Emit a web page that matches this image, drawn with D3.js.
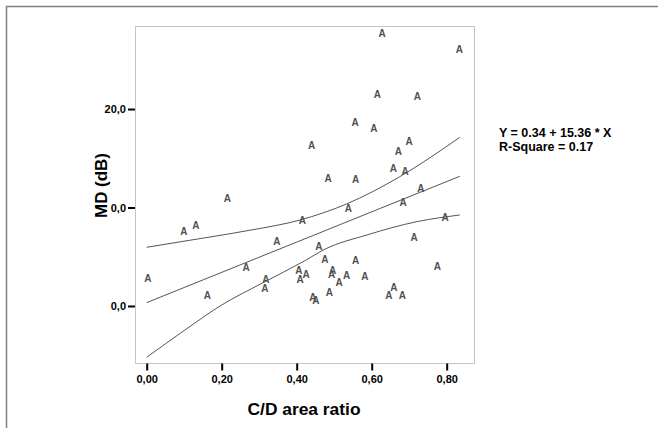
<!DOCTYPE html>
<html>
<head>
<meta charset="utf-8">
<script src="https://cdn.jsdelivr.net/npm/d3@7"></script>
<style>
  body { margin: 0; background: #fff; }
  text { font-family: "Liberation Sans", Arial, sans-serif; }
</style>
</head>
<body>
<div id="chart"></div>
<script>
// C/D area ratio vs MD (dB)
var cdRatio = [0.628, 0.834, 0.615, 0.722, 0.556, 0.606, 0.440, 0.700, 0.671,
  0.658, 0.689, 0.484, 0.557, 0.215, 0.731, 0.538, 0.684, 0.415, 0.099, 0.131,
  0.796, 0.347, 0.713, 0.459, 0.475, 0.557, 0.265, 0.775, 0.003, 0.318, 0.406,
  0.425, 0.409, 0.496, 0.493, 0.533, 0.582, 0.513, 0.315, 0.162, 0.443, 0.451,
  0.487, 0.659, 0.646, 0.682];
var mdValue = [27.69, 26.06, 21.52, 21.25, 18.61, 18.04, 16.35, 16.68, 15.66,
  13.98, 13.63, 12.96, 12.86, 10.93, 11.95, 9.92, 10.49, 8.66, 7.61, 8.15,
  8.96, 6.53, 6.97, 6.02, 4.74, 4.60, 3.93, 4.06, 2.81, 2.74, 3.65,
  3.25, 2.74, 3.65, 3.25, 3.15, 2.97, 2.41, 1.80, 1.05, 0.84, 0.61,
  1.35, 1.86, 1.05, 1.05];

// fit line and its confidence band
var fitX = [0, 0.835];
var fitY = [0.34, 13.17];
var upperX = [0, 0.147, 0.28, 0.409, 0.533, 0.675, 0.835];
var upperY = [5.96, 6.87, 7.72, 8.73, 10.36, 13.13, 17.13];
var lowerX = [0, 0.102, 0.2, 0.307, 0.422, 0.475, 0.587, 0.72, 0.835];
var lowerY = [-5.21, -2.44, 0.10, 2.30, 4.60, 5.76, 7.21, 8.56, 9.24];

var xTicks = [0, 0.2, 0.4, 0.6, 0.8];
var xTickLabels = ["0,00", "0,20", "0,40", "0,60", "0,80"];
var yTicks = [0, 10, 20];
var yTickLabels = ["0,0", "0,0", "20,0"];

var fitText = ["Y = 0.34 + 15.36 * X", "R-Square = 0.17"];

var W = 658, H = 428;
var box = {left: 135, top: 26, right: 474, bottom: 363};

var svg = d3.select('#chart').append('svg')
  .attr('width', W).attr('height', H);

// outer frame (runs off the page)
svg.append('rect')
  .attr('x', 6.5).attr('y', 6.5)
  .attr('width', 800).attr('height', 600)
  .attr('fill', 'none').attr('stroke', '#808080').attr('stroke-width', 1.5);

var x = d3.scaleLinear().domain([-0.0312, 0.8728]).range([box.left, box.right]);
var y = d3.scaleLinear().domain([-5.79, 28.43]).range([box.bottom, box.top]);

svg.append('rect')
  .attr('x', box.left + 0.5).attr('y', box.top + 0.5)
  .attr('width', box.right - box.left).attr('height', box.bottom - box.top)
  .attr('fill', 'none').attr('stroke', '#c4c4c4').attr('stroke-width', 1);

// axes
var xAxis = d3.axisBottom(x).tickValues(xTicks)
  .tickFormat(function(d, i) { return xTickLabels[i]; })
  .tickSize(7).tickPadding(5);
var gx = svg.append('g').attr('transform', 'translate(0,' + (box.bottom + 0.5) + ')').call(xAxis);

var yAxis = d3.axisLeft(y).tickValues(yTicks)
  .tickFormat(function(d, i) { return yTickLabels[i]; })
  .tickSize(7).tickPadding(2);
var gy = svg.append('g').attr('transform', 'translate(' + box.left + ',0)').call(yAxis);

[gx, gy].forEach(function(g) {
  g.select('.domain').remove();
  g.selectAll('.tick line').attr('stroke', '#000').attr('stroke-width', 2);
  g.selectAll('.tick text')
    .attr('fill', '#000')
    .style('font-family', '"Liberation Sans", Arial, sans-serif')
    .style('font-size', '11px').style('font-weight', 'bold');
});

// axis titles
svg.append('text')
  .attr('x', 304).attr('y', 414.5)
  .attr('text-anchor', 'middle')
  .attr('textLength', 113).attr('lengthAdjust', 'spacingAndGlyphs')
  .style('font-size', '16px').style('font-weight', 'bold')
  .text('C/D area ratio');

svg.append('text')
  .attr('transform', 'translate(106.5,185.5) rotate(-90)')
  .attr('text-anchor', 'middle')
  .attr('textLength', 65).attr('lengthAdjust', 'spacingAndGlyphs')
  .style('font-size', '16px').style('font-weight', 'bold')
  .text('MD (dB)');

// fit + band lines
var line = d3.line().x(function(d) { return x(d[0]); }).y(function(d) { return y(d[1]); });
var curved = d3.line().curve(d3.curveMonotoneX)
  .x(function(d) { return x(d[0]); }).y(function(d) { return y(d[1]); });

svg.append('path').datum(d3.zip(fitX, fitY))
  .attr('d', line).attr('fill', 'none').attr('stroke', '#555').attr('stroke-width', 1);
svg.append('path').datum(d3.zip(upperX, upperY))
  .attr('d', curved).attr('fill', 'none').attr('stroke', '#555').attr('stroke-width', 1);
svg.append('path').datum(d3.zip(lowerX, lowerY))
  .attr('d', curved).attr('fill', 'none').attr('stroke', '#555').attr('stroke-width', 1);

// markers "A"
svg.append('g').selectAll('text')
  .data(d3.zip(cdRatio, mdValue))
  .enter().append('text')
  .attr('x', function(d) { return x(d[0]); })
  .attr('y', function(d) { return y(d[1]) + 3.6; })
  .attr('text-anchor', 'middle')
  .attr('fill', '#505050')
  .style('font-size', '10px').style('font-weight', 'bold')
  .text('A');

// fit equation
svg.append('g').selectAll('text')
  .data(fitText)
  .enter().append('text')
  .attr('x', 499)
  .attr('y', function(d, i) { return 137 + i * 14; })
  .style('font-size', '12.5px').style('font-weight', 'bold')
  .text(function(d) { return d; });
</script>
</body>
</html>
